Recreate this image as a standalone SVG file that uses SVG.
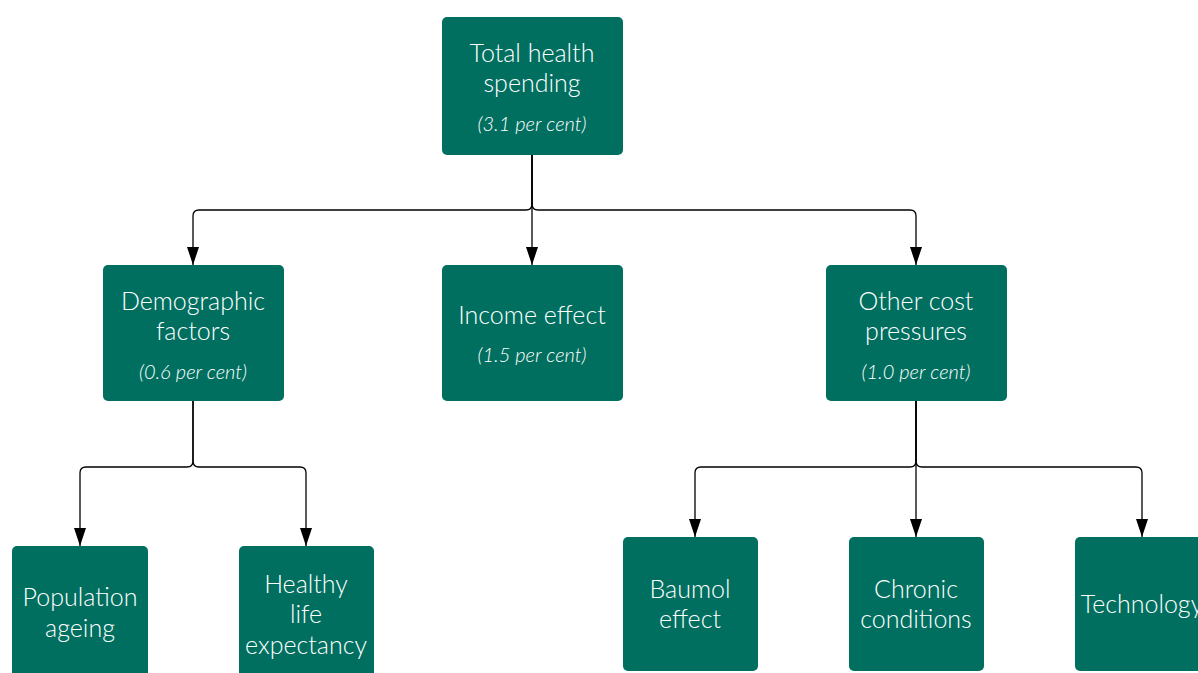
<svg xmlns="http://www.w3.org/2000/svg" width="1198" height="673" viewBox="0 0 1198 673">
<defs>
<marker id="arr" markerWidth="18" markerHeight="12" viewBox="0 0 18 12" refX="18" refY="6" orient="auto" markerUnits="userSpaceOnUse">
<path d="M0,0 L18,6 L0,12 Z" fill="#000"/>
</marker>
<style>
.box{fill:#006f5f}
.t{font-family:Lato,"Noto Sans","Liberation Sans",sans-serif;font-size:25px;font-weight:300;fill:#fff;text-anchor:middle}
.s{font-family:Lato,"Noto Sans","Liberation Sans",sans-serif;font-size:20px;font-weight:300;font-style:italic;fill:#fff;text-anchor:middle}
.c{fill:none;stroke:#000;stroke-width:1.3}
</style>
</defs>
<rect width="1198" height="673" fill="#fff"/>
<g id="connectors">
<path class="c" d="M532,155 V265" marker-end="url(#arr)"/>
<path class="c" d="M532,155 V204 Q532,210 526,210 H199 Q193,210 193,216 V265" marker-end="url(#arr)"/>
<path class="c" d="M532,155 V204 Q532,210 538,210 H910 Q916,210 916,216 V265" marker-end="url(#arr)"/>
<path class="c" d="M193,401 V461 Q193,467 187,467 H86 Q80,467 80,473 V546" marker-end="url(#arr)"/>
<path class="c" d="M193,401 V461 Q193,467 199,467 H300 Q306,467 306,473 V546" marker-end="url(#arr)"/>
<path class="c" d="M916,401 V537" marker-end="url(#arr)"/>
<path class="c" d="M916,401 V461 Q916,467 910,467 H701 Q695,467 695,473 V537" marker-end="url(#arr)"/>
<path class="c" d="M916,401 V461 Q916,467 922,467 H1136 Q1142,467 1142,473 V537" marker-end="url(#arr)"/>
</g>
<g id="total">
<rect class="box" x="442" y="17" width="181" height="138" rx="5"/>
<text class="t" x="532" y="62">Total health</text>
<text class="t" x="532" y="92">spending</text>
<text class="s" x="532" y="131">(3.1 per cent)</text>
</g>
<g id="demographic">
<rect class="box" x="103" y="265" width="181" height="136" rx="5"/>
<text class="t" x="193" y="310">Demographic</text>
<text class="t" x="193" y="340">factors</text>
<text class="s" x="193" y="379">(0.6 per cent)</text>
</g>
<g id="income">
<rect class="box" x="442" y="265" width="181" height="136" rx="5"/>
<text class="t" x="532" y="324">Income effect</text>
<text class="s" x="532" y="362">(1.5 per cent)</text>
</g>
<g id="other">
<rect class="box" x="826" y="265" width="181" height="136" rx="5"/>
<text class="t" x="916" y="310">Other cost</text>
<text class="t" x="916" y="340">pressures</text>
<text class="s" x="916" y="379">(1.0 per cent)</text>
</g>
<g id="population">
<rect class="box" x="12" y="546" width="136" height="140" rx="5"/>
<text class="t" x="80" y="606">Population</text>
<text class="t" x="80" y="637">ageing</text>
</g>
<g id="healthy">
<rect class="box" x="239" y="546" width="135" height="140" rx="5"/>
<text class="t" x="306" y="593">Healthy</text>
<text class="t" x="306" y="623">life</text>
<text class="t" x="306" y="654">expectancy</text>
</g>
<g id="baumol">
<rect class="box" x="623" y="537" width="135" height="134" rx="5"/>
<text class="t" x="690" y="598">Baumol</text>
<text class="t" x="690" y="628">effect</text>
</g>
<g id="chronic">
<rect class="box" x="849" y="537" width="135" height="134" rx="5"/>
<text class="t" x="916" y="598">Chronic</text>
<text class="t" x="916" y="628">conditions</text>
</g>
<g id="technology">
<rect class="box" x="1075" y="537" width="135" height="134" rx="5"/>
<text class="t" x="1142" y="613">Technology</text>
</g>
</svg>
